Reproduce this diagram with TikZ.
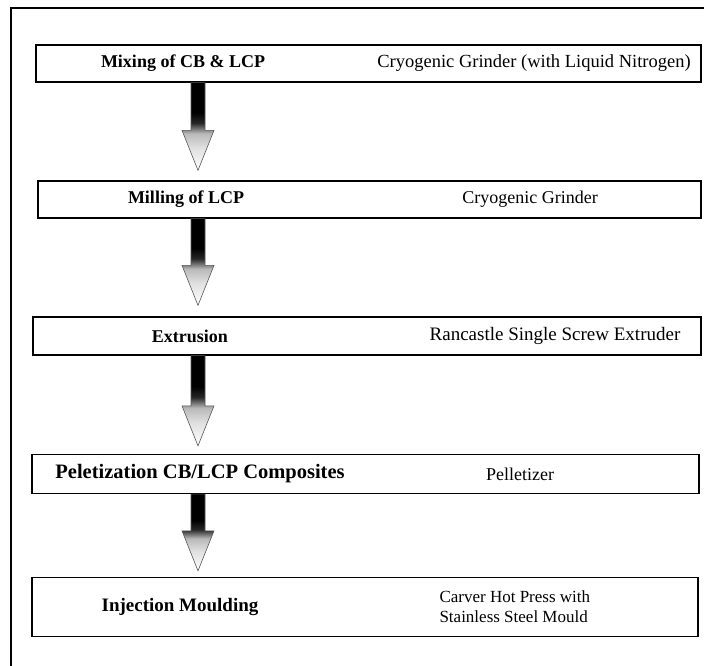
\documentclass[tikz,border=0pt]{standalone}
\usepackage{fontspec}
\setmainfont{Liberation Serif}
\usetikzlibrary{calc}
\pgfdeclareverticalshading{arrowfade}{100bp}{color(0bp)=(white); color(25bp)=(white); color(38bp)=(gray!25); color(46bp)=(gray!55); color(52bp)=(black!85); color(58bp)=(black); color(100bp)=(black)}
\tikzset{
  stagebox/.style={draw, line width=1.3pt, inner sep=0pt},
  steptext/.style={font=\fontsize{18}{20}\selectfont\bfseries},
  tooltext/.style={font=\fontsize{18}{21}\selectfont, align=left},
  flow/.style={shade, shading=arrowfade, draw=black!65, line width=0.6pt}
}
% block arrow from the bottom of one stage to the top of the next
\newcommand\flowarrow[2]{%
  \path[flow] let \p1=(#1), \p2=(#2) in
    (\x1-7pt,\y1) -- (\x1+7pt,\y1) -- (\x1+7pt,\y2+40pt) -- (\x1+16pt,\y2+40pt)
    -- (\x1,\y2) -- (\x1-16pt,\y2+40pt) -- (\x1-7pt,\y2+40pt) -- cycle;
}
\begin{document}
\begin{tikzpicture}[x=1pt,y=1pt]
\useasboundingbox (0,0) rectangle (704,-666);
\draw[line width=1.2pt] (11,-666) -- (11,-8) -- (704,-8);
\coordinate (axis) at (198,0);
% stages
\node[stagebox, minimum width=665pt, minimum height=37pt] (mix) at (368.5,-63.5) {};
\node[stagebox, minimum width=663pt, minimum height=37pt] (mill) at (369.5,-199.5) {};
\node[stagebox, minimum width=668pt, minimum height=38pt] (extr) at (367,-336) {};
\node[stagebox, minimum width=667pt, minimum height=39pt] (pell) at (365.5,-474) {};
\node[stagebox, minimum width=666pt, minimum height=59pt] (mould) at (365,-607) {};
% stage names
\node[steptext] (mixT) at (183,-63.5) {Mixing of CB \& LCP};
\node[steptext] (millT) at (186,-199.5) {Milling of LCP};
\node[steptext] (extrT) at (190,-336) {Extrusion};
\node[steptext, font=\fontsize{20.5}{22}\selectfont\bfseries] (pellT) at (200,-474) {Peletization CB/LCP Composites};
\node[steptext, font=\fontsize{19}{22}\selectfont\bfseries] (mouldT) at (180,-607) {Injection Moulding};
% equipment
\node[tooltext, font=\fontsize{18.5}{21}\selectfont] (mixE) at (534,-63.5) {Cryogenic Grinder (with Liquid Nitrogen)};
\node[tooltext] (millE) at (530,-199.5) {Cryogenic Grinder};
\node[tooltext, font=\fontsize{19}{21}\selectfont] (extrE) at (555,-336) {Rancastle Single Screw Extruder};
\node[tooltext] (pellE) at (520,-474) {Pelletizer};
\node[tooltext, font=\fontsize{17}{20}\selectfont, anchor=west] (mouldE) at (436,-607) {Carver Hot Press with\\Stainless Steel Mould};
% arrows
\flowarrow{mix.south -| axis}{$(mill.north -| axis)+(0,10)$}
\flowarrow{mill.south -| axis}{$(extr.north -| axis)+(0,11)$}
\flowarrow{extr.south -| axis}{$(pell.north -| axis)+(0,8)$}
\flowarrow{pell.south -| axis}{$(mould.north -| axis)+(0,6)$}
\end{tikzpicture}
\end{document}
